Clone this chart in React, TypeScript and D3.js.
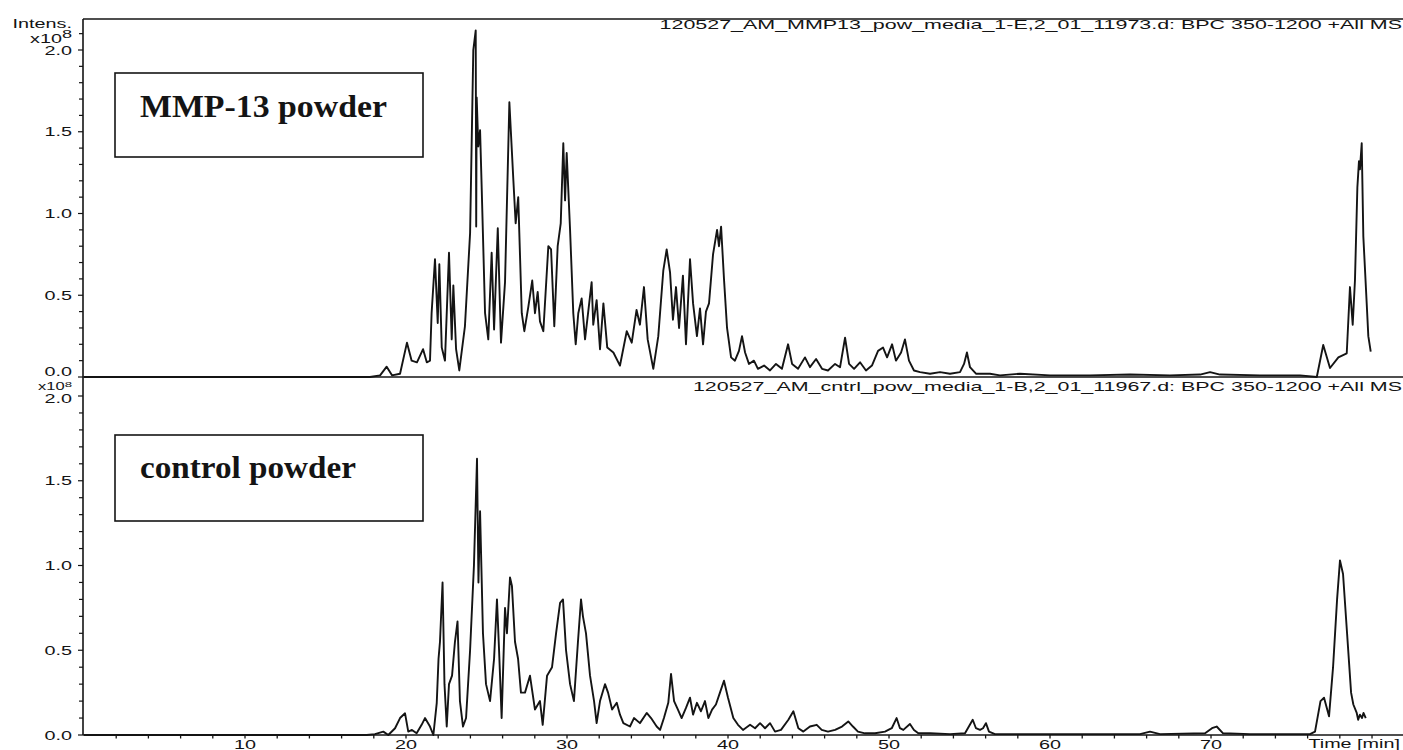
import React from "react";
import * as d3 from "d3";

// ---- data (time in min, intensity in x10^8) ----
const topTime = [0, 17.76, 18.39, 18.8, 19.13, 19.63, 20.06, 20.35, 20.68, 21.06, 21.29, 21.49, 21.59, 21.8, 21.97, 22.07, 22.22, 22.42, 22.67, 22.84, 22.94, 23.11, 23.31, 23.66, 23.98, 24.18, 24.33, 24.36, 24.39, 24.49, 24.6, 24.7, 24.91, 25.11, 25.32, 25.47, 25.7, 25.9, 26.15, 26.42, 26.67, 26.81, 26.97, 27.19, 27.35, 27.6, 27.84, 28.01, 28.18, 28.32, 28.53, 28.84, 29.01, 29.21, 29.42, 29.61, 29.77, 29.88, 29.98, 30.19, 30.39, 30.54, 30.7, 30.91, 31.12, 31.53, 31.63, 31.84, 32.05, 32.26, 32.5, 32.88, 33.29, 33.71, 34.02, 34.32, 34.53, 34.78, 35.01, 35.36, 35.67, 35.98, 36.19, 36.4, 36.58, 36.77, 36.96, 37.2, 37.39, 37.64, 37.83, 38.07, 38.26, 38.45, 38.63, 38.82, 39.07, 39.32, 39.44, 39.57, 39.75, 39.94, 40.19, 40.43, 40.68, 40.87, 41.06, 41.3, 41.61, 41.86, 42.24, 42.61, 42.98, 43.35, 43.73, 43.98, 44.35, 44.78, 45.09, 45.47, 45.84, 46.21, 46.65, 46.96, 47.27, 47.52, 47.83, 48.2, 48.57, 48.94, 49.32, 49.63, 49.88, 50.19, 50.43, 50.75, 50.99, 51.24, 51.55, 51.93, 52.55, 53.17, 53.79, 54.41, 54.66, 54.84, 55.03, 55.4, 56.27, 56.89, 58.14, 60.0, 62.48, 64.97, 67.45, 69.32, 69.94, 70.56, 73.04, 75.53, 76.57, 76.97, 77.39, 77.91, 78.43, 78.63, 78.8, 78.94, 79.09, 79.19, 79.25, 79.36, 79.46, 79.67, 79.77, 79.92];
const topIntensity = [0, 0, 0.01, 0.063, 0.01, 0.02, 0.21, 0.1, 0.09, 0.17, 0.09, 0.1, 0.39, 0.72, 0.33, 0.69, 0.18, 0.1, 0.76, 0.23, 0.56, 0.17, 0.04, 0.31, 0.88, 2.0, 2.12, 0.92, 1.71, 1.41, 1.51, 1.16, 0.39, 0.23, 0.76, 0.29, 0.91, 0.21, 0.58, 1.68, 1.2, 0.94, 1.1, 0.39, 0.28, 0.43, 0.59, 0.39, 0.52, 0.34, 0.28, 0.8, 0.78, 0.31, 0.8, 0.94, 1.43, 1.08, 1.37, 0.9, 0.39, 0.2, 0.39, 0.48, 0.23, 0.58, 0.32, 0.47, 0.17, 0.45, 0.18, 0.15, 0.07, 0.28, 0.21, 0.41, 0.32, 0.55, 0.23, 0.05, 0.25, 0.65, 0.78, 0.64, 0.35, 0.55, 0.3, 0.62, 0.2, 0.72, 0.45, 0.25, 0.42, 0.2, 0.4, 0.45, 0.75, 0.9, 0.8, 0.92, 0.6, 0.3, 0.12, 0.1, 0.16, 0.25, 0.15, 0.08, 0.1, 0.05, 0.07, 0.04, 0.08, 0.05, 0.2, 0.08, 0.05, 0.12, 0.06, 0.11, 0.05, 0.04, 0.08, 0.06, 0.24, 0.08, 0.05, 0.09, 0.04, 0.07, 0.16, 0.18, 0.12, 0.2, 0.1, 0.15, 0.23, 0.1, 0.04, 0.03, 0.02, 0.03, 0.02, 0.03, 0.08, 0.15, 0.06, 0.02, 0.02, 0.01, 0.02, 0.01, 0.01, 0.015, 0.01, 0.015, 0.03, 0.015, 0.01, 0.01, 0.0, 0.196, 0.055, 0.12, 0.145, 0.55, 0.32, 0.59, 1.16, 1.32, 1.27, 1.43, 0.86, 0.45, 0.25, 0.155];

const bottomTime = [0, 17.56, 18.07, 18.59, 18.9, 19.32, 19.63, 19.94, 20.14, 20.37, 20.66, 20.97, 21.18, 21.49, 21.7, 21.91, 22.02, 22.11, 22.27, 22.39, 22.53, 22.67, 22.86, 23.04, 23.2, 23.35, 23.54, 23.73, 23.98, 24.22, 24.41, 24.5, 24.6, 24.78, 24.97, 25.22, 25.47, 25.65, 25.78, 25.94, 26.15, 26.27, 26.46, 26.58, 26.77, 26.96, 27.14, 27.39, 27.7, 28.01, 28.32, 28.49, 28.76, 29.07, 29.32, 29.57, 29.75, 29.94, 30.19, 30.43, 30.68, 30.87, 30.99, 31.18, 31.43, 31.68, 31.84, 32.05, 32.36, 32.55, 32.8, 33.09, 33.29, 33.5, 33.91, 34.16, 34.53, 34.95, 35.22, 35.57, 35.78, 36.02, 36.29, 36.46, 36.65, 36.89, 37.12, 37.39, 37.64, 37.83, 38.07, 38.32, 38.57, 38.78, 39.01, 39.25, 39.5, 39.75, 40.0, 40.33, 40.62, 40.93, 41.37, 41.68, 41.99, 42.3, 42.61, 42.92, 43.29, 43.75, 44.06, 44.37, 44.68, 45.09, 45.51, 45.82, 46.21, 46.65, 47.08, 47.47, 47.76, 48.07, 48.51, 49.13, 49.75, 50.17, 50.47, 50.68, 50.89, 51.3, 51.55, 51.82, 52.55, 53.79, 54.72, 55.2, 55.4, 55.65, 55.84, 56.02, 56.21, 56.58, 60.0, 65.59, 66.21, 66.83, 69.63, 70.06, 70.35, 70.75, 72.42, 76.15, 76.46, 76.8, 77.02, 77.33, 77.58, 77.83, 78.01, 78.2, 78.45, 78.7, 78.84, 79.05, 79.14, 79.25, 79.38, 79.47, 79.61];
const bottomIntensity = [0, 0, 0.005, 0.02, 0.0, 0.04, 0.1, 0.128, 0.02, 0.03, 0.01, 0.06, 0.1, 0.05, 0.0, 0.19, 0.45, 0.55, 0.9, 0.3, 0.05, 0.3, 0.35, 0.55, 0.67, 0.2, 0.05, 0.1, 0.5, 1.0, 1.63, 0.9, 1.32, 0.6, 0.3, 0.2, 0.45, 0.8, 0.5, 0.1, 0.75, 0.6, 0.93, 0.88, 0.55, 0.45, 0.25, 0.25, 0.35, 0.15, 0.2, 0.06, 0.35, 0.4, 0.6, 0.78, 0.8, 0.5, 0.3, 0.2, 0.55, 0.8, 0.7, 0.6, 0.35, 0.2, 0.07, 0.2, 0.3, 0.25, 0.15, 0.19, 0.12, 0.07, 0.05, 0.1, 0.07, 0.13, 0.1, 0.05, 0.03, 0.1, 0.19, 0.36, 0.2, 0.15, 0.1, 0.16, 0.22, 0.12, 0.19, 0.14, 0.2, 0.1, 0.15, 0.18, 0.25, 0.32, 0.22, 0.1, 0.06, 0.03, 0.06, 0.04, 0.07, 0.04, 0.07, 0.02, 0.03, 0.09, 0.14, 0.04, 0.02, 0.05, 0.06, 0.03, 0.02, 0.03, 0.05, 0.08, 0.05, 0.02, 0.01, 0.01, 0.02, 0.04, 0.1, 0.04, 0.03, 0.065, 0.03, 0.01, 0.01, 0.005, 0.01, 0.09, 0.04, 0.03, 0.04, 0.07, 0.02, 0.005, 0.005, 0.005, 0.02, 0.005, 0.01, 0.04, 0.05, 0.01, 0.005, 0.005, 0.02, 0.2, 0.22, 0.11, 0.4, 0.8, 1.03, 0.95, 0.6, 0.25, 0.18, 0.13, 0.09, 0.12, 0.1, 0.13, 0.1];

const yTickLabels = ["0.0", "0.5", "1.0", "1.5", "2.0"];
const xTickLabels = ["10", "20", "30", "40", "50", "60", "70"];
const topTitle = "120527_AM_MMP13_pow_media_1-E,2_01_11973.d: BPC 350-1200 +All MS";
const bottomTitle = "120527_AM_cntrl_pow_media_1-B,2_01_11967.d: BPC 350-1200 +All MS";
const topLabel = "MMP-13 powder";
const bottomLabel = "control powder";

const W = 1403;
const H = 750;
const AXIS_X = 83;
const RIGHT = 1403;
const SANS = "'Liberation Sans', Arial, Helvetica, sans-serif";
const SERIF = "'Liberation Serif', 'Times New Roman', serif";
const SX = 1.65;
const INK = "#141414";

const x = d3.scaleLinear().domain([0, 81.8]).range([84, 1401]);
const yTop = d3.scaleLinear().domain([0, 2]).range([377, 50]);
const yBot = d3.scaleLinear().domain([0, 2]).range([735, 396]);

function WideText({ x, y, anchor = "end", size = 12, children }: any) {
  return (
    <text
      transform={`translate(${x},${y}) scale(${SX},1)`}
      textAnchor={anchor}
      fontFamily={SANS}
      fontSize={size}
      fill={INK}
    >
      {children}
    </text>
  );
}

function Panel({ times, values, y, maxTick, isTop }: any) {
  const pts = times.map((t: number, i: number) => [t, values[i]] as [number, number]);
  const line = d3
    .line<[number, number]>()
    .x((d) => x(d[0]))
    .y((d) => y(d[1]));
  const minor = d3.range(0, Math.round(maxTick * 10) + 1).map((i) => i / 10);
  const labelOffset = (lab: string) => {
    if (isTop && lab === "0.0") return -1;
    if (!isTop && lab === "2.0") return 7;
    return 4.5;
  };
  return (
    <g>
      {minor.map((v) => {
        const major = Math.abs(v * 2 - Math.round(v * 2)) < 1e-6;
        return (
          <line
            key={v}
            x1={AXIS_X - (major ? 5 : 4)}
            x2={AXIS_X}
            y1={y(v)}
            y2={y(v)}
            stroke={INK}
            strokeWidth={1.2}
          />
        );
      })}
      {yTickLabels.map((lab) => (
        <WideText key={lab} x={72} y={y(+lab) + labelOffset(lab)} size={12}>
          {lab}
        </WideText>
      ))}
      <path d={line(pts) || ""} fill="none" stroke={INK} strokeWidth={1.9} strokeLinejoin="round" />
    </g>
  );
}

export default function App() {
  const xMinor = d3.range(2, 81, 2);
  return (
    <svg
      width={W}
      height={H}
      style={{ position: "absolute", left: 0, top: 0, background: "#fff" }}
    >
      <rect x={0} y={0} width={W} height={H} fill="#fff" />
      {/* frame lines */}
      <line x1={AXIS_X} x2={RIGHT} y1={19} y2={19} stroke={INK} strokeWidth={1.3} />
      <line x1={AXIS_X} x2={AXIS_X} y1={19} y2={735} stroke={INK} strokeWidth={1.6} />
      <line x1={AXIS_X} x2={RIGHT} y1={377} y2={377} stroke={INK} strokeWidth={1.3} />
      <line x1={AXIS_X} x2={RIGHT} y1={735} y2={735} stroke={INK} strokeWidth={1.3} />
      {xMinor.map((t) => (
        <line key={t} x1={x(t)} x2={x(t)} y1={735} y2={738.5} stroke={INK} strokeWidth={1.3} />
      ))}
      {xTickLabels.map((lab) => (
        <WideText key={lab} x={x(+lab)} y={749} anchor="middle" size={12}>
          {lab}
        </WideText>
      ))}
      <WideText x={1400} y={748} size={12}>Time [min]</WideText>

      <Panel times={topTime} values={topIntensity} y={yTop} maxTick={2.1} isTop={true} />
      <Panel times={bottomTime} values={bottomIntensity} y={yBot} maxTick={2.0} isTop={false} />

      {/* axis headers */}
      <WideText x={72} y={28} size={12}>Intens.</WideText>
      <WideText x={72} y={43} size={12}>
        x10<tspan dy={-5} fontSize={11}>8</tspan>
      </WideText>
      <WideText x={72} y={389.5} size={10}>
        x10<tspan dy={-3} fontSize={8}>8</tspan>
      </WideText>

      {/* subtitles */}
      <WideText x={1402} y={29} size={13}>{topTitle}</WideText>
      <WideText x={1402} y={391} size={13}>{bottomTitle}</WideText>

      {/* sample label boxes */}
      <rect x={115} y={73} width={308} height={84} fill="#fff" stroke={INK} strokeWidth={1.6} />
      <text x={140} y={117} fontFamily={SERIF} fontWeight="bold" fontSize={32} fill={INK}
        textLength={247} lengthAdjust="spacingAndGlyphs">{topLabel}</text>
      <rect x={115} y={435} width={308} height={86} fill="#fff" stroke={INK} strokeWidth={1.6} />
      <text x={140} y={478} fontFamily={SERIF} fontWeight="bold" fontSize={32} fill={INK}
        textLength={216} lengthAdjust="spacingAndGlyphs">{bottomLabel}</text>
    </svg>
  );
}
